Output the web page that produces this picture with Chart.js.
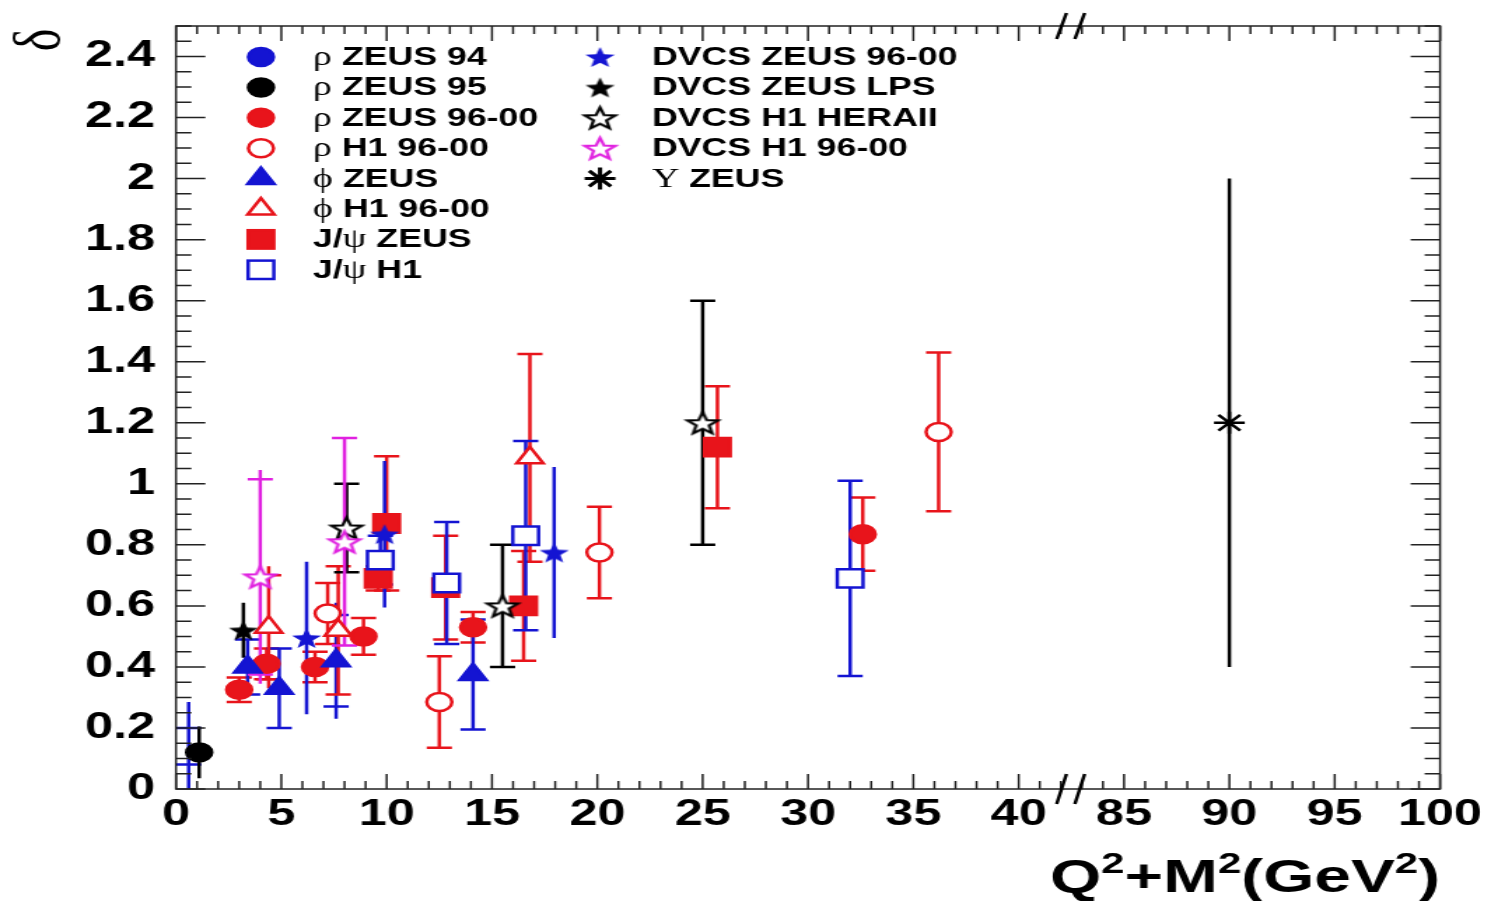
<!DOCTYPE html>
<html>
<head>
<meta charset="utf-8">
<script src="https://cdn.jsdelivr.net/npm/chart.js@4.4.0/dist/chart.umd.min.js"></script>
<style>
  html, body { margin: 0; padding: 0; background: #fff; overflow: hidden; }
  /* the original plot is stretched sideways, so draw narrow and widen */
  #wrap { width: 1064px; height: 901px; transform: scaleX(1.4); transform-origin: 0 0; }
</style>
</head>
<body>
<div id="wrap"><canvas id="plot" width="1064" height="901"></canvas></div>
<script>
// x axis is broken: 0-40 then 85-100, laid on one linear scale 0-60
const xTickValues = [0, 5, 10, 15, 20, 25, 30, 35, 40, 45, 50, 55, 60];
const yTickValues = [0, 0.2, 0.4, 0.6, 0.8, 1, 1.2, 1.4, 1.6, 1.8, 2, 2.2, 2.4];
const seriesNames = ['ρ ZEUS 94', 'ρ ZEUS 95', 'ρ ZEUS 96-00', 'ρ H1 96-00', 'ϕ ZEUS', 'ϕ H1 96-00',
  'J/ψ ZEUS', 'J/ψ H1', 'DVCS ZEUS 96-00', 'DVCS ZEUS LPS', 'DVCS H1 HERAII', 'DVCS H1 96-00', 'Υ ZEUS'];
// x title pieces, 1 = superscript
const xTitleParts = [['Q', 0], ['2', 1], ['+M', 0], ['2', 1], ['(GeV', 0], ['2', 1], [')', 0]];

// per series: Q2+M2, delta, half length of error line, half length to the caps (0 = no caps)
const rhoZeus94X = [0.6];
const rhoZeus94Y = [0.14];
const rhoZeus94Err = [0.145];
const rhoZeus94Cap = [0.06];

const rhoZeus95X = [1.1];
const rhoZeus95Y = [0.12];
const rhoZeus95Err = [0.085];
const rhoZeus95Cap = [0];

const rhoZeus9600X = [3.0, 4.3, 6.6, 8.9, 14.1, 32.6];
const rhoZeus9600Y = [0.325, 0.41, 0.40, 0.50, 0.53, 0.835];
const rhoZeus9600Err = [0.04, 0.05, 0.05, 0.06, 0.05, 0.12];
const rhoZeus9600Cap = [0.04, 0.05, 0.05, 0.06, 0.05, 0.12];

const rhoH19600X = [7.2, 12.5, 20.1, 36.2];
const rhoH19600Y = [0.575, 0.285, 0.775, 1.17];
const rhoH19600Err = [0.1, 0.15, 0.15, 0.26];
const rhoH19600Cap = [0.1, 0.15, 0.15, 0.26];

const phiZeusX = [3.4, 4.9, 7.6, 14.1];
const phiZeusY = [0.40, 0.33, 0.42, 0.375];
const phiZeusErr = [0.09, 0.13, 0.19, 0.18];
const phiZeusCap = [0.09, 0.13, 0.15, 0.18];

const phiH19600X = [4.4, 7.7, 16.8];
const phiH19600Y = [0.53, 0.52, 1.085];
const phiH19600Err = [0.2, 0.21, 0.34];
const phiH19600Cap = [0.17, 0.21, 0.34];

const jpsiZeusX = [9.6, 10.0, 12.8, 16.5, 25.7];
const jpsiZeusY = [0.69, 0.87, 0.66, 0.60, 1.12];
const jpsiZeusErr = [0.04, 0.22, 0.17, 0.18, 0.2];
const jpsiZeusCap = [0.04, 0.22, 0.17, 0.18, 0.2];

const jpsiH1X = [9.7, 12.85, 16.6, 32.0];
const jpsiH1Y = [0.75, 0.675, 0.83, 0.69];
const jpsiH1Err = [0.08, 0.2, 0.31, 0.32];
const jpsiH1Cap = [0.08, 0.2, 0.31, 0.32];

const dvcsZeus9600X = [6.2, 9.9, 17.95];
const dvcsZeus9600Y = [0.495, 0.835, 0.775];
const dvcsZeus9600Err = [0.25, 0.24, 0.28];
const dvcsZeus9600Cap = [0, 0, 0];

const dvcsZeusLpsX = [3.2];
const dvcsZeusLpsY = [0.52];
const dvcsZeusLpsErr = [0.09];
const dvcsZeusLpsCap = [0];

const dvcsH1HeraX = [8.1, 15.5, 25.0];
const dvcsH1HeraY = [0.855, 0.6, 1.2];
const dvcsH1HeraErr = [0.145, 0.2, 0.4];
const dvcsH1HeraCap = [0.145, 0.2, 0.4];

const dvcsH19600X = [4.0, 8.0];
const dvcsH19600Y = [0.695, 0.81];
const dvcsH19600Err = [0.35, 0.34];
const dvcsH19600Cap = [0.32, 0.34];

const upsilonZeusX = [90];
const upsilonZeusY = [1.2];
const upsilonZeusErr = [0.8];
const upsilonZeusCap = [0];

// values above the break are shifted down so 85 sits next to 40
function toAxis(q) { return q > 40 ? q - 40 : q; }
function fromAxis(v) { return v > 40 ? v + 40 : v; }

function starImage(fill, stroke, R) {
  const c = document.createElement('canvas');
  const s = Math.ceil(2 * R + 6);
  c.width = s; c.height = s;
  const g = c.getContext('2d');
  g.translate(s / 2, s / 2 + R * 0.1);
  g.beginPath();
  for (let i = 0; i < 10; i++) {
    const r = i % 2 === 0 ? R : R * 0.42;
    const a = -Math.PI / 2 + i * Math.PI / 5;
    g.lineTo(r * Math.cos(a), r * Math.sin(a));
  }
  g.closePath();
  g.fillStyle = fill;
  g.fill();
  if (stroke) { g.strokeStyle = stroke; g.lineWidth = 2.2; g.stroke(); }
  return c;
}

const RED = '#e8141b', BLUE = '#1414d2', MAG = '#e020e0';

function series(i, xs, ys, errs, caps, style) {
  return Object.assign({
    label: seriesNames[i],
    order: -i,
    data: xs.map((x, k) => ({ x: toAxis(x), y: ys[k], err: errs[k], cap: caps[k] })),
    borderWidth: 2.5
  }, style);
}

const datasets = [
  series(0, rhoZeus94X, rhoZeus94Y, rhoZeus94Err, rhoZeus94Cap,
    { barColor: BLUE, pointStyle: 'circle', pointRadius: 0, backgroundColor: BLUE, borderColor: BLUE, legendRadius: 9 }),
  series(1, rhoZeus95X, rhoZeus95Y, rhoZeus95Err, rhoZeus95Cap,
    { barColor: '#000', pointStyle: 'circle', pointRadius: 9, backgroundColor: '#000', borderColor: '#000' }),
  series(2, rhoZeus9600X, rhoZeus9600Y, rhoZeus9600Err, rhoZeus9600Cap,
    { barColor: RED, pointStyle: 'circle', pointRadius: 9, backgroundColor: RED, borderColor: RED }),
  series(3, rhoH19600X, rhoH19600Y, rhoH19600Err, rhoH19600Cap,
    { barColor: RED, pointStyle: 'circle', pointRadius: 9, backgroundColor: '#fff', borderColor: RED }),
  series(4, phiZeusX, phiZeusY, phiZeusErr, phiZeusCap,
    { barColor: BLUE, pointStyle: 'triangle', pointRadius: 11, backgroundColor: BLUE, borderColor: BLUE }),
  series(5, phiH19600X, phiH19600Y, phiH19600Err, phiH19600Cap,
    { barColor: RED, pointStyle: 'triangle', pointRadius: 11, backgroundColor: '#fff', borderColor: RED }),
  series(6, jpsiZeusX, jpsiZeusY, jpsiZeusErr, jpsiZeusCap,
    { barColor: RED, pointStyle: 'rect', pointRadius: 13, backgroundColor: RED, borderColor: RED }),
  series(7, jpsiH1X, jpsiH1Y, jpsiH1Err, jpsiH1Cap,
    { barColor: BLUE, pointStyle: 'rect', pointRadius: 13, backgroundColor: '#fff', borderColor: BLUE }),
  series(8, dvcsZeus9600X, dvcsZeus9600Y, dvcsZeus9600Err, dvcsZeus9600Cap,
    { barColor: BLUE, pointStyle: starImage(BLUE, null, 11), pointRadius: 11, backgroundColor: BLUE, borderColor: BLUE }),
  series(9, dvcsZeusLpsX, dvcsZeusLpsY, dvcsZeusLpsErr, dvcsZeusLpsCap,
    { barColor: '#000', pointStyle: starImage('#000', null, 11), pointRadius: 11, backgroundColor: '#000', borderColor: '#000' }),
  series(10, dvcsH1HeraX, dvcsH1HeraY, dvcsH1HeraErr, dvcsH1HeraCap,
    { barColor: '#000', pointStyle: starImage('#fff', '#000', 11.5), pointRadius: 11, backgroundColor: '#fff', borderColor: '#000' }),
  series(11, dvcsH19600X, dvcsH19600Y, dvcsH19600Err, dvcsH19600Cap,
    { barColor: MAG, pointStyle: starImage('#fff', MAG, 11.5), pointRadius: 11, backgroundColor: '#fff', borderColor: MAG }),
  series(12, upsilonZeusX, upsilonZeusY, upsilonZeusErr, upsilonZeusCap,
    { barColor: '#000', pointStyle: 'star', pointRadius: 11, backgroundColor: '#000', borderColor: '#000' })
];

const errorBars = {
  id: 'errorBars',
  beforeDatasetsDraw(chart) {
    const ctx = chart.ctx, xs = chart.scales.x, ys = chart.scales.y, a = chart.chartArea;
    ctx.save();
    ctx.beginPath();
    ctx.rect(a.left, a.top, a.right - a.left, a.bottom - a.top);
    ctx.clip();
    ctx.lineWidth = 2.5;
    chart.data.datasets.forEach(ds => {
      ctx.strokeStyle = ds.barColor;
      ds.data.forEach(p => {
        const px = xs.getPixelForValue(p.x);
        ctx.beginPath();
        ctx.moveTo(px, ys.getPixelForValue(p.y - p.err));
        ctx.lineTo(px, ys.getPixelForValue(p.y + p.err));
        if (p.cap > 0) {
          [p.y - p.cap, p.y + p.cap].forEach(v => {
            const py = ys.getPixelForValue(v);
            ctx.moveTo(px - 9, py);
            ctx.lineTo(px + 9, py);
          });
        }
        ctx.stroke();
      });
    });
    ctx.restore();
  }
};

function drawMarker(ctx, ds, x, y) {
  const r = ds.legendRadius || ds.pointRadius;
  ctx.save();
  ctx.fillStyle = ds.backgroundColor;
  ctx.strokeStyle = ds.borderColor;
  ctx.lineWidth = 2.5;
  const st = ds.pointStyle;
  if (typeof st !== 'string') {
    ctx.drawImage(st, x - st.width / 2, y - st.height / 2);
  } else if (st === 'circle') {
    ctx.beginPath(); ctx.arc(x, y, r, 0, Math.PI * 2); ctx.fill(); ctx.stroke();
  } else if (st === 'triangle') {
    ctx.beginPath();
    for (let k = 0; k < 3; k++) {
      const rad = k * 2 * Math.PI / 3;
      ctx.lineTo(x + Math.sin(rad) * r, y - Math.cos(rad) * r);
    }
    ctx.closePath(); ctx.fill(); ctx.stroke();
  } else if (st === 'rect') {
    const h = Math.SQRT1_2 * r;
    ctx.fillRect(x - h, y - h, 2 * h, 2 * h);
    ctx.strokeRect(x - h, y - h, 2 * h, 2 * h);
  } else if (st === 'star') {
    ctx.lineWidth = 3;
    ctx.beginPath();
    ctx.moveTo(x - r, y); ctx.lineTo(x + r, y);
    ctx.moveTo(x, y - r); ctx.lineTo(x, y + r);
    const d = r * Math.SQRT1_2;
    ctx.moveTo(x - d, y - d); ctx.lineTo(x + d, y + d);
    ctx.moveTo(x - d, y + d); ctx.lineTo(x + d, y - d);
    ctx.stroke();
  }
  ctx.restore();
}

const frameAndLegend = {
  id: 'frameAndLegend',
  afterDraw(chart) {
    const ctx = chart.ctx, a = chart.chartArea, xs = chart.scales.x, ys = chart.scales.y;
    ctx.save();
    // frame
    ctx.strokeStyle = '#222';
    ctx.lineWidth = 1.5;
    ctx.strokeRect(a.left, a.top, a.right - a.left, a.bottom - a.top);
    // ticks pointing inwards on all four sides
    ctx.beginPath();
    for (let v = 0; v <= 60; v++) {
      const px = xs.getPixelForValue(v);
      const len = v % 5 === 0 ? 15 : 8;
      ctx.moveTo(px, a.bottom); ctx.lineTo(px, a.bottom - len);
      ctx.moveTo(px, a.top); ctx.lineTo(px, a.top + len);
    }
    for (let k = 0; k <= 50; k++) {
      const py = ys.getPixelForValue(k * 0.05);
      const len = k % 4 === 0 ? 21 : 11;
      ctx.moveTo(a.left, py); ctx.lineTo(a.left + len, py);
      ctx.moveTo(a.right, py); ctx.lineTo(a.right - len, py);
    }
    ctx.stroke();
    // axis break marks
    const bx = xs.getPixelForValue(42.5);
    ctx.strokeStyle = '#000';
    ctx.lineWidth = 2.5;
    ctx.beginPath();
    [[a.bottom, 15], [a.top, 13]].forEach(([cy, h]) => {
      [-7, 6].forEach(off => {
        ctx.moveTo(bx + off - 3.5, cy + h);
        ctx.lineTo(bx + off + 3.5, cy - h);
      });
    });
    ctx.stroke();
    // y title, at the top end of the axis
    ctx.fillStyle = '#000';
    ctx.font = '48px "Liberation Serif"';
    ctx.textAlign = 'center';
    ctx.textBaseline = 'middle';
    ctx.save();
    ctx.translate(30, 40);
    ctx.rotate(-Math.PI / 2);
    ctx.fillText('δ', 0, 0);
    ctx.restore();
    // x title, right aligned with superscripts
    ctx.textAlign = 'left';
    ctx.textBaseline = 'alphabetic';
    const mainFont = 'bold 47px "Liberation Sans"', supFont = 'bold 30px "Liberation Sans"';
    let total = 0;
    xTitleParts.forEach(([t, sup]) => { ctx.font = sup ? supFont : mainFont; total += ctx.measureText(t).width; });
    let tx = a.right - total;
    xTitleParts.forEach(([t, sup]) => {
      ctx.font = sup ? supFont : mainFont;
      ctx.fillText(t, tx, sup ? 873 : 892);
      tx += ctx.measureText(t).width;
    });
    ctx.restore();

    // legend, two columns
    ctx.save();
    ctx.textBaseline = 'middle';
    ctx.textAlign = 'left';
    chart.data.datasets.forEach((ds, i) => {
      const col = i < 8 ? 0 : 1;
      const row = i < 8 ? i : i - 8;
      const my = 57 + row * 30.4;
      const mx = col === 0 ? 186.4 : 428.6;
      drawMarker(ctx, ds, mx, my);
      let tx = col === 0 ? 223.6 : 465.7;
      ctx.fillStyle = '#000';
      for (const ch of ds.label) {
        const greek = 'ρϕψΥ'.includes(ch);
        ctx.font = greek ? '27px "Liberation Serif"' : 'bold 25.5px "Liberation Sans"';
        ctx.fillText(ch, tx, my + 1);
        tx += ctx.measureText(ch).width;
      }
    });
    ctx.restore();
  }
};

new Chart(document.getElementById('plot'), {
  type: 'scatter',
  data: { datasets: datasets },
  plugins: [errorBars, frameAndLegend],
  options: {
    responsive: false,
    animation: false,
    devicePixelRatio: 1,
    layout: { padding: { top: 26, right: 35.4, left: 0, bottom: 0 } },
    plugins: { legend: { display: false }, tooltip: { enabled: false } },
    elements: { point: { borderWidth: 2.5, hoverRadius: 0 } },
    scales: {
      x: {
        type: 'linear', min: 0, max: 60,
        grid: { display: false, drawTicks: false },
        border: { display: false },
        afterFit: s => { s.height = 112; s.paddingLeft = 0; s.paddingRight = 0; },
        afterBuildTicks: s => { s.ticks = xTickValues.map(v => ({ value: v })); },
        ticks: {
          autoSkip: false, maxRotation: 0, padding: 8, color: '#000',
          font: { family: 'Liberation Sans', weight: 'bold', size: 36, lineHeight: 1 },
          callback: v => String(fromAxis(v))
        }
      },
      y: {
        type: 'linear', min: 0, max: 2.5,
        grid: { display: false, drawTicks: false },
        border: { display: false },
        afterFit: s => { s.width = 125.7; s.paddingTop = 0; s.paddingBottom = 0; },
        afterBuildTicks: s => { s.ticks = yTickValues.map(v => ({ value: v })); },
        ticks: {
          padding: 15, color: '#000',
          font: { family: 'Liberation Sans', weight: 'bold', size: 36, lineHeight: 1 },
          callback: v => String(+v.toFixed(1))
        }
      }
    }
  }
});
</script>
</body>
</html>
